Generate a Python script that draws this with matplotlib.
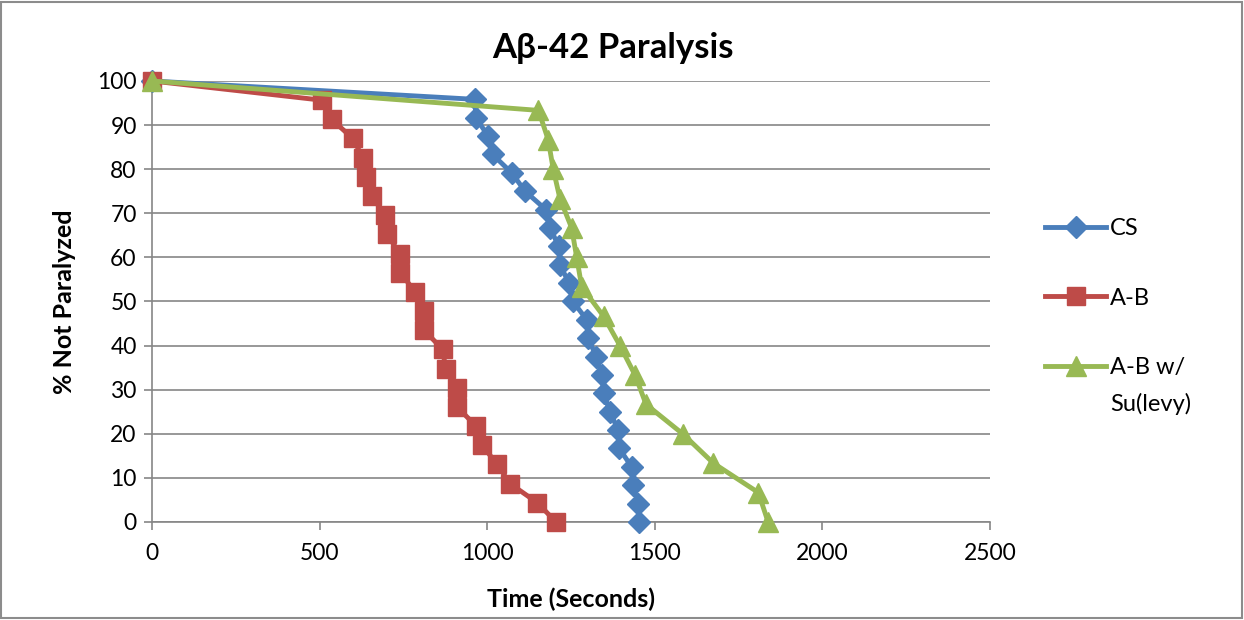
"""Abeta-42 paralysis assay: percent of worms not paralyzed over time.
"""
import matplotlib
matplotlib.use('Agg')
import matplotlib.pyplot as plt
from matplotlib.patches import Rectangle

plt.rcParams['font.family'] = ['Lato', 'DejaVu Sans']

# CS (blue diamonds)
cs_time = [0, 964, 966, 1003, 1016, 1073, 1113, 1175, 1187, 1214, 1216, 1245, 1256,
           1297, 1302, 1325, 1342, 1348, 1366, 1391, 1394, 1431, 1434, 1451, 1454]
cs_pct = [100, 95.83, 91.67, 87.5, 83.33, 79.17, 75, 70.83, 66.67, 62.5, 58.33, 54.17, 50,
          45.83, 41.67, 37.5, 33.33, 29.17, 25, 20.83, 16.67, 12.5, 8.33, 4.17, 0]

# A-B (red squares)
ab_time = [0, 506, 536, 599, 629, 638, 655, 695, 700, 740, 741, 785, 811,
           812, 867, 876, 909, 910, 967, 985, 1030, 1068, 1150, 1205]
ab_pct = [100, 95.65, 91.3, 86.96, 82.61, 78.26, 73.91, 69.57, 65.22, 60.87, 56.52, 52.17,
          47.83, 43.48, 39.13, 34.78, 30.43, 26.09, 21.74, 17.39, 13.04, 8.7, 4.35, 0]

# A-B w/ Su(levy) (green triangles)
su_time = [0, 1153, 1182, 1197, 1217, 1252, 1267, 1282, 1347, 1396, 1441, 1474,
           1583, 1675, 1809, 1838]
su_pct = [100, 93.33, 86.67, 80, 73.33, 66.67, 60, 53.33, 46.67, 40, 33.33, 26.67,
          20, 13.33, 6.67, 0]

grey = '#868686'

fig = plt.figure(figsize=(12.44, 6.2), dpi=100)
fig.patches.append(Rectangle((0.001, 0.003), 0.997, 0.994, transform=fig.transFigure,
                             fill=False, edgecolor='#8c8c8c', linewidth=1.5))
ax = fig.add_axes([0.1222, 0.1581, 0.6736, 0.7113])

ax.plot(cs_time, cs_pct, color='#4A7EBB', marker='D', markersize=11.5, linewidth=3.5,
        label='CS', clip_on=False, zorder=3)
ax.plot(ab_time, ab_pct, color='#BE4B48', marker='s', markersize=13.5, linewidth=3.5,
        label='A-B', clip_on=False, zorder=4)
ax.plot(su_time, su_pct, color='#98B954', marker='^', markersize=14.5, linewidth=3.5,
        label='A-B w/', clip_on=False, zorder=5)

ax.set_xlim(0, 2500)
ax.set_ylim(0, 100)
ax.set_xticks(range(0, 2501, 500))
ax.set_yticks(range(0, 101, 10))
ax.grid(axis='y', color=grey, linewidth=1.2)
ax.set_axisbelow(True)
for s in ['top', 'right']:
    ax.spines[s].set_visible(False)
for s in ['left', 'bottom']:
    ax.spines[s].set_color(grey)
    ax.spines[s].set_linewidth(1.2)
ax.tick_params(colors=grey, labelcolor='black', labelsize=16.5, length=6, width=1.2)
ax.tick_params(axis='x', pad=9)
ax.tick_params(axis='y', pad=5)

ax.set_xlabel('Time (Seconds)', fontsize=18, fontweight='bold', labelpad=17)
ax.set_ylabel('% Not Paralyzed', fontsize=18, fontweight='bold', labelpad=15)
fig.text(0.493, 0.923, 'A\u03b2-42 Paralysis', fontsize=25, fontweight='bold',
         ha='center', va='center')

leg = ax.legend(loc='upper left', bbox_to_anchor=(0.84, 0.648), bbox_transform=fig.transFigure,
                frameon=False, fontsize=17, handlelength=2.6, handletextpad=0.15,
                labelspacing=2.05, borderpad=0, borderaxespad=0)

# second line of the third legend entry sits under its first line
fig.canvas.draw()
bb = leg.get_texts()[2].get_window_extent(fig.canvas.get_renderer())
fig.text(bb.x0, bb.y0 - 37, 'Su(levy)', fontsize=17, ha='left', va='bottom', transform=None)

plt.savefig('out.png', dpi=100)
